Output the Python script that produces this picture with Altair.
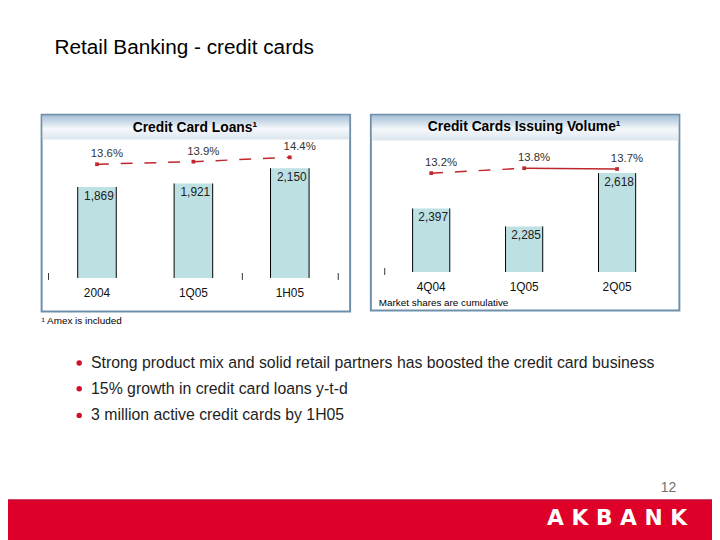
import altair as alt
import pandas as pd

# ---- data ----
left_periods = ["2004", "1Q05", "1H05"]
left_loans = [1869, 1921, 2150]
left_share = [13.6, 13.9, 14.4]

right_periods = ["4Q04", "1Q05", "2Q05"]
right_volume = [2397, 2285, 2618]
right_share = [13.2, 13.8, 13.7]

slide_title = "Retail Banking - credit cards"
left_title = "Credit Card Loans\u00b9"
right_title = "Credit Cards Issuing Volume\u00b9"
footnote = "\u00b9 Amex is included"
market_note = "Market shares are cumulative"
bullets = [
    "Strong product mix and solid retail partners has boosted the credit card business",
    "15% growth in credit card loans y-t-d",
    "3 million active credit cards by 1H05",
]
page_no = "12"
brand = "A K B A N K"

FONT = "Liberation Sans"
RED = "#c0272d"
BAR = "#bde0e3"
BORDER = "#6f90ab"

left_df = pd.DataFrame({"period": left_periods, "value": left_loans,
                        "share": left_share, "base": [508] * 3})
right_df = pd.DataFrame({"period": right_periods, "value": right_volume,
                         "share": right_share, "base": [2000] * 3})

dummy = pd.DataFrame({"a": [0]})


def deco():
    return alt.Chart(dummy)


def rect(x, x2, y, y2, **kw):
    return deco().mark_rect(**kw).encode(
        x=alt.value(x), x2=alt.value(x2), y=alt.value(y), y2=alt.value(y2))


def label(txt, x, y, **kw):
    return deco().mark_text(text=txt, font=FONT, **kw).encode(
        x=alt.value(x), y=alt.value(y))


def panel(df, xr, yb, yp, cat_y, solid_last=False):
    xs = alt.Scale(type="band", domain=list(df["period"]), range=xr,
                   paddingInner=0.6, paddingOuter=0.5)
    ys = alt.Scale(domain=yb[0], range=yb[1], clamp=True)
    ps = alt.Scale(domain=yp[0], range=yp[1])
    X = alt.X("period:N", scale=xs, axis=None, sort=list(df["period"]))
    Y = alt.Y("value:Q", scale=ys, axis=None)
    base = alt.Chart(df)
    bars = base.mark_bar(color=BAR).encode(x=X, y=Y, y2="base:Q")
    edges = []
    for bp in (0, 1):
        edges.append(base.mark_rule(color="black", strokeWidth=1).encode(
            x=alt.X("period:N", scale=xs, axis=None, bandPosition=bp,
                    sort=list(df["period"])),
            y=Y, y2="base:Q"))
    vals = base.mark_text(font=FONT, fontSize=12, color="#222", dy=9, dx=2,
                          baseline="middle").encode(
        x=X, y=Y, text=alt.Text("value:Q", format=",.0f"))
    cats = base.mark_text(font=FONT, fontSize=12, color="#111",
                          baseline="middle").encode(
        x=X, y=alt.value(cat_y), text="period:N")
    PY = alt.Y("share:Q", scale=ps, axis=None)
    if solid_last:
        l1 = alt.Chart(df.iloc[0:2]).mark_line(
            color=RED, strokeWidth=1.5, strokeDash=[12, 12]).encode(x=X, y=PY)
        l2 = alt.Chart(df.iloc[1:3]).mark_line(
            color=RED, strokeWidth=1.5).encode(x=X, y=PY)
        lines = [l1, l2]
    else:
        lines = [base.mark_line(color=RED, strokeWidth=1.5,
                                strokeDash=[12, 12]).encode(x=X, y=PY)]
    pts = base.mark_square(size=14, color=RED, opacity=1).encode(x=X, y=PY)
    plab = base.transform_calculate(
        lbl="format(datum.share, '.1f') + '%'"
    ).mark_text(font=FONT, fontSize=11.5, color="#333", dx=10, dy=-10,
                baseline="middle").encode(x=X, y=PY, text="lbl:N")
    return [bars] + edges + [vals, cats] + lines + [pts, plab]


grad = alt.Gradient(gradient="linear", x1=0, x2=0, y1=0, y2=1,
                    stops=[alt.GradientStop(color="#a9c2d9", offset=0),
                           alt.GradientStop(color="#f5f8fb", offset=0.55),
                           alt.GradientStop(color="#dbe6ef", offset=1)])

layers = []
# panel frames and headers
layers.append(rect(34, 346, 105, 304, fill="white", stroke=BORDER, strokeWidth=2))
layers.append(rect(35, 345, 106, 130, fill=grad))
layers.append(rect(367, 679, 105, 303, fill="white", stroke=BORDER, strokeWidth=2))
layers.append(rect(368, 678, 106, 131, fill=grad))
layers.append(label(left_title, 189, 118, fontSize=14, fontWeight="bold",
                    color="black", baseline="middle"))
layers.append(label(right_title, 522, 117, fontSize=14, fontWeight="bold",
                    color="black", baseline="middle"))
# small axis ticks
for tx in (41, 237, 334):
    layers.append(deco().mark_rule(color="#333").encode(
        x=alt.value(tx), y=alt.value(265), y2=alt.value(272)))
layers.append(deco().mark_rule(color="#333").encode(
    x=alt.value(381), y=alt.value(260), y2=alt.value(267)))

layers += panel(left_df, [21.75, 353.25], ([508, 2283], [270, 150]),
                ([13, 15], [160.25, 142.75]), 285)
layers += panel(right_df, [362.2, 681.8], ([2000, 2741], [264, 144]),
                ([13, 15], [165.67, 149]), 279, solid_last=True)

# texts
layers.append(label(slide_title, 47, 43, fontSize=21, color="black",
                    align="left", baseline="alphabetic"))
layers.append(label(market_note, 375, 295, fontSize=10, color="black",
                    align="left", baseline="middle"))
layers.append(label(footnote, 34, 314, fontSize=10, color="black",
                    align="left", baseline="middle"))
for i, b in enumerate(bullets):
    yy = [356, 382, 409][i]
    layers.append(deco().mark_circle(size=30, color="#d0102a", opacity=1).encode(
        x=alt.value(72), y=alt.value(yy)))
    layers.append(label(b, 84, yy, fontSize=16, color="#1e1e1e",
                        align="left", baseline="middle"))
layers.append(label(page_no, 668, 482, fontSize=14, color="#707070",
                    align="center", baseline="middle"))
# banner
layers.append(rect(-10, 715, 494, 540, fill="#df0029"))
layers.append(rect(-10, 715, 494, 495.5, fill="#c30a35"))
layers.append(deco().mark_text(text=brand, font="DejaVu Sans", fontSize=22,
                               fontWeight="bold", color="white",
                               baseline="middle").encode(
    x=alt.value(616), y=alt.value(513)))

chart = alt.layer(*layers).resolve_scale(x="independent", y="independent").properties(
    width=712, height=532, padding=0,
    autosize=alt.AutoSizeParams(type="none"),
    background="white",
).configure_view(strokeWidth=0)

chart.save("out.html", embed_options={"renderer": "svg", "actions": False})
